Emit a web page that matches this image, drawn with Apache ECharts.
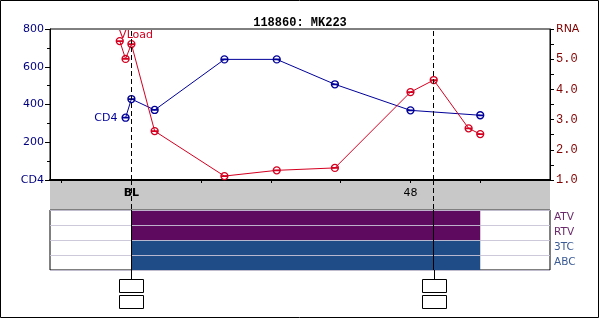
<!DOCTYPE html>
<html><head><meta charset="utf-8">
<script src="https://cdn.jsdelivr.net/npm/echarts@6/dist/echarts.min.js"></script>
<style>html,body{margin:0;padding:0;background:#fff}#c{width:600px;height:319px}</style>
</head><body><div id="c"></div>
<script>
// ---- data ----
const title = '118860: MK223';
const cd4Weeks = [-1, 0, 4, 16, 25, 35, 48, 60];
const cd4Values = [330, 429, 371, 639, 639, 507, 369, 343];
const rnaWeeks = [-2, -1, 0, 4, 16, 25, 35, 48, 52, 58, 60];
const rnaValues = [5.60, 5.01, 5.50, 2.62, 1.13, 1.32, 1.40, 3.91, 4.31, 2.71, 2.52];
const xTickValues = [-12, 0, 12, 24, 36, 48, 60];
const xLabelMap = {0: '{b|BL}', 48: '48'};
const eventWeeks = [0, 52];
const drugs = ['ATV', 'RTV', '3TC', 'ABC'];
const drugStart = [0, 0, 0, 0];
const drugEnd = [60, 60, 60, 60];
const drugColors = ['#5e0a5e', '#5e0a5e', '#1f4b86', '#1f4b86'];
const drugLabelColors = ['#6a2a6a', '#6a2a6a', '#3a5a94', '#3a5a94'];

const X_MIN = -14, X_MAX = 72;
const BLUE = '#000099', RED = '#d40020';
const thetaPath = 'path://M0,4A4,4 0 1,1 8,4A4,4 0 1,1 0,4ZM0.6,3.75L7.4,3.75L7.4,4.25L0.6,4.25Z';

const chart = echarts.init(document.getElementById('c'), null, {renderer: 'canvas'});
const xBase = {type: 'value', min: X_MIN, max: X_MAX, splitLine: {show: false}};

const option = {
  animation: false,
  backgroundColor: '#fff',
  title: {text: title, left: 'center', top: 12,
    textStyle: {fontFamily: 'Liberation Mono', fontWeight: 'bold', fontSize: 12, color: '#000'}},
  graphic: [{type: 'rect', shape: {x: 0.5, y: 0.5, width: 598, height: 317},
    style: {fill: 'none', stroke: '#000', lineWidth: 1}, silent: true, z: 100}],
  grid: [
    {left: 50, top: 29, width: 500, height: 151, show: true, borderColor: '#000', borderWidth: 1, backgroundColor: '#fff'},
    {left: 50, top: 181, width: 500, height: 28, show: true, borderWidth: 0, backgroundColor: '#c8c8c8'},
    {left: 50, top: 210, width: 500, height: 60, show: true, borderColor: '#000', borderWidth: 1, backgroundColor: '#fff'},
    {left: 50, top: 270, width: 500, height: 40, show: false}
  ],
  xAxis: [
    Object.assign({}, xBase, {gridIndex: 0, position: 'bottom',
      axisLine: {show: true, onZero: false, lineStyle: {color: '#000', width: 2}},
      axisTick: {show: true, inside: false, length: 3, lineStyle: {color: '#000'}, customValues: xTickValues},
      axisLabel: {show: true, margin: 8, customValues: xTickValues,
        formatter: v => xLabelMap[v] || '',
        rich: {b: {fontWeight: 'bold', fontFamily: 'DejaVu Sans', fontSize: 11, color: '#000'}},
        fontFamily: 'DejaVu Sans', fontSize: 11, color: '#000'}}),
    Object.assign({}, xBase, {gridIndex: 1, show: false}),
    Object.assign({}, xBase, {gridIndex: 2, show: false}),
    Object.assign({}, xBase, {gridIndex: 3, show: false})
  ],
  yAxis: [
    {type: 'value', gridIndex: 0, min: 0, max: 800, interval: 200, position: 'left',
      axisLine: {show: true, onZero: false, lineStyle: {color: '#000'}},
      axisTick: {show: true, length: 5, lineStyle: {color: '#000'}},
      minorTick: {show: true, splitNumber: 2, length: 3, lineStyle: {color: '#000'}},
      splitLine: {show: false},
      axisLabel: {margin: 6, color: '#000080', fontFamily: 'DejaVu Sans', fontSize: 11,
        formatter: v => v === 0 ? 'CD4' : String(v)}},
    {type: 'value', gridIndex: 0, min: 1, max: 6, interval: 1, position: 'right',
      axisLine: {show: true, onZero: false, lineStyle: {color: '#000'}},
      axisTick: {show: true, length: 4, lineStyle: {color: '#000'}},
      minorTick: {show: true, splitNumber: 2, length: 4, lineStyle: {color: '#000'}},
      splitLine: {show: false},
      axisLabel: {margin: 6, color: '#800000', fontFamily: 'Liberation Mono', fontSize: 12,
        formatter: v => v === 6 ? '{s|RNA}' : v.toFixed(1),
        rich: {s: {fontFamily: 'DejaVu Sans', fontSize: 11, color: '#800000'}}}},
    {type: 'value', gridIndex: 1, min: 0, max: 1, show: false},
    {type: 'category', gridIndex: 2, data: drugs, inverse: true, position: 'right', z: 5,
      axisLine: {show: false}, axisTick: {show: false},
      splitLine: {show: true, lineStyle: {color: 'rgba(200,195,215,0.9)', width: 1}},
      axisLabel: {margin: 4, fontFamily: 'DejaVu Sans', fontSize: 10.5,
        color: (v, i) => drugLabelColors[drugs.indexOf(v)]}},
    {type: 'value', gridIndex: 3, min: 0, max: 1, show: false}
  ],
  series: [
    {type: 'line', name: 'CD4', xAxisIndex: 0, yAxisIndex: 0, z: 4,
      data: cd4Weeks.map((w, i) => i === 0
        ? {value: [w, cd4Values[i]], label: {show: true, position: 'left', distance: 4, formatter: 'CD4',
            color: BLUE, fontFamily: 'DejaVu Sans', fontSize: 11}}
        : [w, cd4Values[i]]),
      symbol: thetaPath, symbolSize: 7, showSymbol: true,
      lineStyle: {color: BLUE, width: 1}, itemStyle: {color: 'rgba(0,0,0,0)', borderColor: BLUE, borderWidth: 1.3},
      markLine: {silent: true, symbol: 'none', label: {show: false},
        lineStyle: {color: '#000', type: [5, 3], width: 1},
        data: eventWeeks.map(w => ({xAxis: w}))}},
    {type: 'line', name: 'RNA', xAxisIndex: 0, yAxisIndex: 1, z: 4,
      data: rnaWeeks.map((w, i) => i === 0
        ? {value: [w, rnaValues[i]], label: {show: true, position: [3.5, -2], align: 'left', verticalAlign: 'middle',
            formatter: 'VLoad', color: RED, fontFamily: 'DejaVu Sans', fontSize: 11}}
        : [w, rnaValues[i]]),
      symbol: thetaPath, symbolSize: 7,
      lineStyle: {color: RED, width: 1}, itemStyle: {color: 'rgba(0,0,0,0)', borderColor: RED, borderWidth: 1.3}},
    {type: 'line', name: 'band', xAxisIndex: 1, yAxisIndex: 2, data: [], silent: true,
      markLine: {silent: true, symbol: 'none', label: {show: false},
        lineStyle: {color: '#000', type: [5, 3], width: 1},
        data: eventWeeks.map(w => ({xAxis: w}))}},
    {type: 'custom', name: 'drugs', xAxisIndex: 2, yAxisIndex: 3, z: 2,
      data: drugs.map((d, i) => [drugStart[i], drugEnd[i], i]),
      renderItem: (params, api) => {
        const s = api.coord([api.value(0), api.value(2)]);
        const e = api.coord([api.value(1), api.value(2)]);
        const h = api.size([0, 1])[1];
        return {type: 'rect', shape: {x: s[0], y: s[1] - h / 2, width: e[0] - s[0], height: h},
          style: {fill: drugColors[api.value(2)]}};
      },
      markLine: {silent: true, symbol: 'none', label: {show: false}, z: 6,
        lineStyle: {color: '#000', type: 'solid', width: 1},
        data: eventWeeks.map(w => ({xAxis: w}))}},
    {type: 'custom', name: 'events', xAxisIndex: 3, yAxisIndex: 4, z: 5,
      data: eventWeeks.map(w => [w]),
      renderItem: (params, api) => {
        const p = api.coord([api.value(0), 1]);
        const x = Math.round(p[0]) + 0.5;
        const top = params.coordSys.y;
        return {type: 'group', children: [
          {type: 'line', shape: {x1: x, y1: top, x2: x, y2: top + 9}, style: {stroke: '#000', lineWidth: 1}},
          {type: 'rect', shape: {x: x - 12, y: top + 9.5, width: 24, height: 13}, style: {fill: '#fff', stroke: '#000', lineWidth: 1}},
          {type: 'rect', shape: {x: x - 12, y: top + 25.5, width: 24, height: 13}, style: {fill: '#fff', stroke: '#000', lineWidth: 1}}
        ]};
      }}
  ]
};
chart.setOption(option);
</script></body></html>
